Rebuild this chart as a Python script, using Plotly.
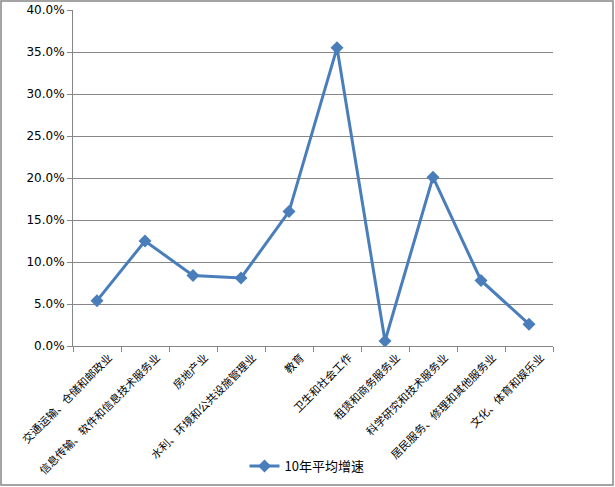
import plotly.graph_objects as go

categories = ["交通运输、仓储和邮政业", "信息传输、软件和信息技术服务业", "房地产业",
              "水利、环境和公共设施管理业", "教育", "卫生和社会工作", "租赁和商务服务业",
              "科学研究和技术服务业", "居民服务、修理和其他服务业", "文化、体育和娱乐业"]
growth = [0.054, 0.125, 0.084, 0.081, 0.160, 0.355, 0.006, 0.201, 0.078, 0.026]
series_name = "10年平均增速"
y_ticks = [0, 0.05, 0.10, 0.15, 0.20, 0.25, 0.30, 0.35, 0.40]

W, H = 615, 487
L, R, T, B = 73, 62, 10, 141
pw, ph = W - L - R, H - T - B

def px(x):
    return (x - L) / pw

def py(y):
    return (H - B - y) / ph

fig = go.Figure()
fig.add_trace(go.Scatter(
    x=categories, y=growth, name=series_name, mode="lines+markers",
    line=dict(color="#4A7EBB", width=3),
    marker=dict(symbol="diamond", size=10, color="#4A7EBB"),
))

grid = "#868686"
fig.update_layout(
    width=W, height=H,
    margin=dict(l=L, r=R, t=T, b=B, autoexpand=False),
    paper_bgcolor="white", plot_bgcolor="white",
    showlegend=True,
    legend=dict(orientation="h", x=px(307), xanchor="center", y=py(466), yanchor="middle",
                font=dict(family="Noto Sans CJK SC, DejaVu Sans", size=13, color="#000")),
    xaxis=dict(type="category", tickangle=-45, tickson="boundaries", ticks="outside",
               ticklen=5, tickcolor=grid, showline=True, linecolor=grid, linewidth=1,
               showgrid=False, range=[-0.5, 9.5], automargin=False, ticklabelshift=12,
               tickfont=dict(family="Noto Sans CJK SC", size=11, color="#000")),
    yaxis=dict(range=[0, 0.40], tickvals=y_ticks, tickformat=".1%", ticks="outside",
               ticklen=5, tickcolor=grid, showline=True, linecolor=grid, linewidth=1,
               showgrid=True, gridcolor=grid, gridwidth=1, zeroline=False, automargin=False,
               tickfont=dict(family="DejaVu Sans", size=12, color="#000")),
    shapes=[dict(type="rect", xref="paper", yref="paper",
                 x0=px(1), x1=px(613), y0=py(485), y1=py(1),
                 line=dict(color="#868686", width=1.5), fillcolor="rgba(0,0,0,0)", layer="below")],
)

fig.write_html("out.html", config={"displayModeBar": False},
               post_script="document.body.style.margin='0';document.body.style.overflow='hidden';")
